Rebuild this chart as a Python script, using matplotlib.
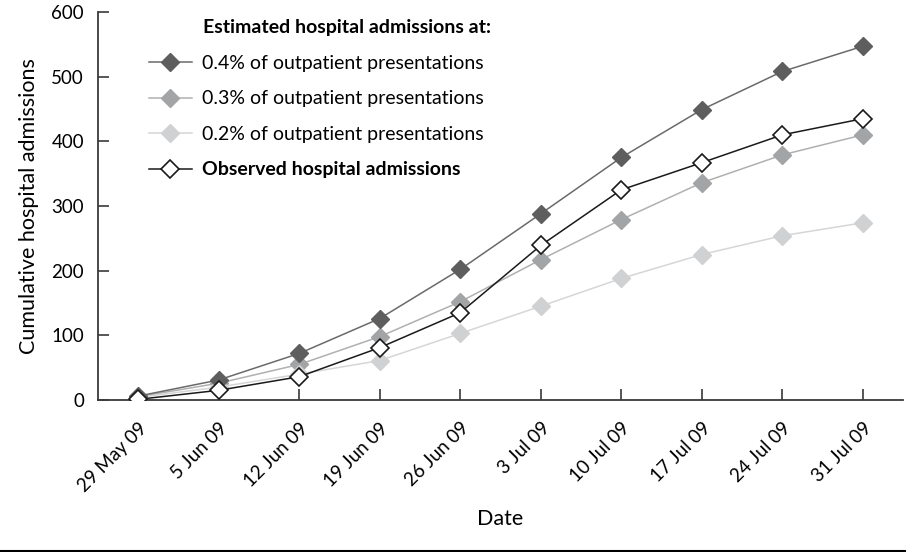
import matplotlib
matplotlib.use("Agg")
import matplotlib.pyplot as plt
from matplotlib.lines import Line2D

plt.rcParams["font.family"] = ["Lato", "DejaVu Sans"]

# ── data ───────────────────────────────────────────────────────
dates = ["29 May 09", "5 Jun 09", "12 Jun 09", "19 Jun 09", "26 Jun 09",
         "3 Jul 09", "10 Jul 09", "17 Jul 09", "24 Jul 09", "31 Jul 09"]
est_04 = [6, 31, 72, 126, 202, 288, 375, 449, 508, 547]
est_03 = [5, 26, 55, 98, 152, 217, 279, 336, 379, 410]
est_02 = [4, 20, 40, 61, 103, 145, 188, 225, 254, 274]
observed = [1, 15, 36, 81, 135, 239, 325, 367, 410, 435]

labels = ["0.4% of outpatient presentations",
          "0.3% of outpatient presentations",
          "0.2% of outpatient presentations",
          "Observed hospital admissions"]
y_ticks = [0, 100, 200, 300, 400, 500, 600]

# ── style ──────────────────────────────────────────────────────
C04, C04L = "#5e5e5e", "#6a6a6a"
C03, C03L = "#a3a4a6", "#b0b0b0"
C02, C02L = "#d0d1d3", "#d6d6d6"
AX_C = "#3a3a3a"
MS = 9.5
TICK_FS, LAB_FS, LEG_FS = 13.5, 15.5, 14

fig = plt.figure(figsize=(9.06, 5.52), dpi=100)
ax = fig.add_axes([98 / 906, 1 - 400 / 552, (903 - 98) / 906, (400 - 12) / 552])

x = list(range(len(dates)))
ax.plot(x, est_04, color=C04L, lw=1.1, marker="D", ms=MS, mfc=C04, mec=C04,
        label=labels[0], zorder=3)
ax.plot(x, est_03, color=C03L, lw=1.1, marker="D", ms=MS, mfc=C03, mec=C03,
        label=labels[1], zorder=2)
ax.plot(x, est_02, color=C02L, lw=1.1, marker="D", ms=MS, mfc=C02, mec=C02,
        label=labels[2], zorder=2)
ax.plot(x, observed, color="#1a1a1a", lw=1.1, marker="D", ms=MS - 0.5,
        mfc="white", mec="#1a1a1a", mew=1.2, label=labels[3], zorder=4)

ax.set_xlim(-0.5, len(dates) - 0.5)
ax.set_ylim(0, 600)
ax.set_xticks(x)
ax.set_xticklabels(dates, rotation=45, ha="right", rotation_mode="anchor")
ax.set_yticks(y_ticks)

for s in ("top", "right"):
    ax.spines[s].set_visible(False)
for s in ("left", "bottom"):
    ax.spines[s].set_color(AX_C)
    ax.spines[s].set_linewidth(1.3)

ax.tick_params(axis="both", direction="in", length=8, width=1.2,
               color=AX_C, labelsize=TICK_FS, labelcolor="black")
ax.tick_params(axis="x", pad=14)
ax.tick_params(axis="y", pad=10)

ax.set_xlabel("Date", fontsize=LAB_FS, labelpad=10)
ax.set_ylabel("Cumulative hospital admissions", fontsize=LAB_FS, labelpad=9)

leg = ax.legend(loc="upper left", bbox_to_anchor=(149 / 906, 1 - 55 / 552),
                bbox_transform=fig.transFigure, frameon=False, fontsize=LEG_FS,
                handlelength=2.2, handletextpad=0.55, labelspacing=0.95,
                borderaxespad=0, borderpad=0)
leg.get_texts()[-1].set_fontweight("bold")

fig.text(203 / 906, 1 - 28 / 552, "Estimated hospital admissions at:",
         fontsize=LEG_FS, fontweight="bold", va="center", ha="left")

fig.add_artist(Line2D([0, 1], [0.002, 0.002], transform=fig.transFigure,
                      color="black", lw=1.5))

fig.savefig("out.png", dpi=100)
